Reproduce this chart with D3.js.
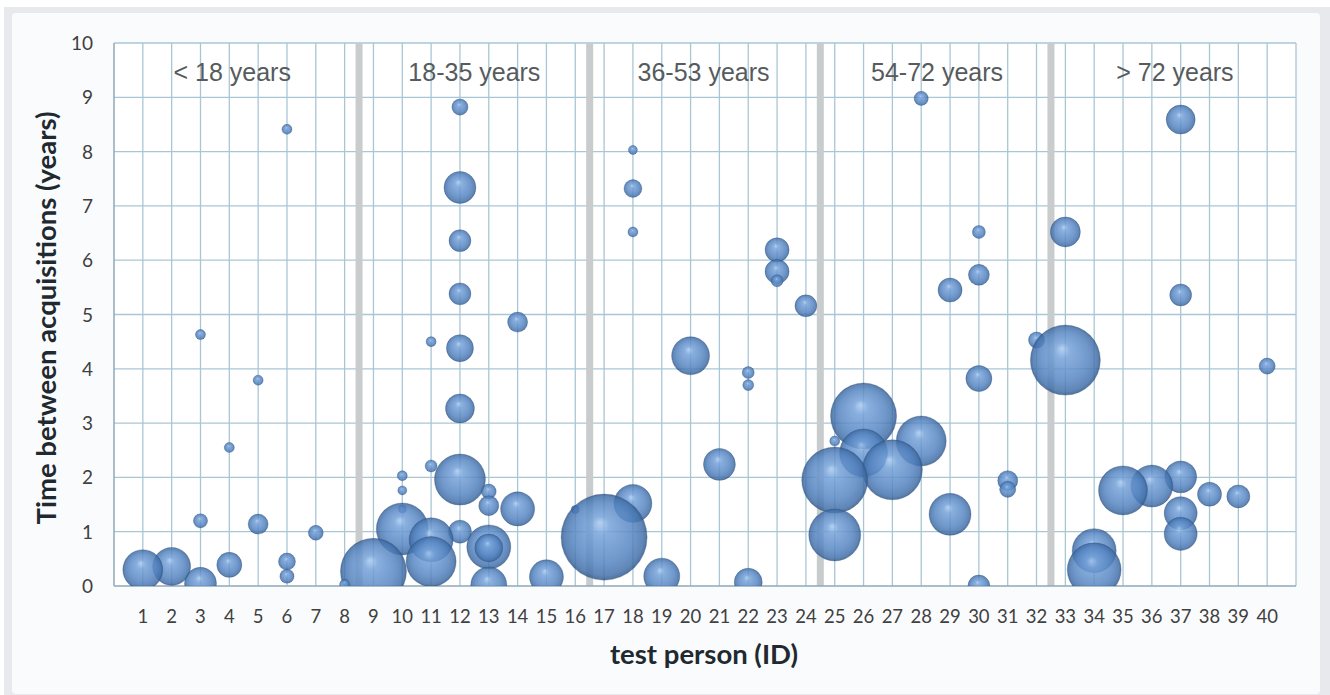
<!DOCTYPE html>
<html>
<head>
<meta charset="utf-8">
<script src="https://cdn.jsdelivr.net/npm/d3@7"></script>
<style>
  html, body { margin: 0; padding: 0; background: #ffffff; }
  svg { display: block; }
</style>
</head>
<body>
<svg id="chart" width="1330" height="695"></svg>
<script>
// ---- data ----
const personIds = d3.range(1, 41);
const yTicks = [0, 1, 2, 3, 4, 5, 6, 7, 8, 9, 10];
const groupLabels = ["< 18 years", "18-35 years", "36-53 years", "54-72 years", "> 72 years"];
const groupLabelPos = [4.1, 12.5, 20.45, 28.55, 36.8];
const groupSeparators = [8.5, 16.5, 24.5, 32.5];
// bubbles: test person id, time between acquisitions (years), bubble size
const bubbleId   = [1, 2, 3, 3, 3, 4, 4, 5, 5, 6, 6, 6, 7, 8,
                    9, 10, 10, 10, 10, 11, 11, 11, 11, 12, 12, 12, 12, 12, 12, 12, 12,
                    13, 13, 13, 13, 13, 14, 14, 15, 16,
                    17, 18, 18, 18, 18, 19, 20, 21, 22, 22, 22, 23, 23, 23, 24,
                    25, 25, 25, 26, 26, 27, 28, 28, 29, 29, 30, 30, 30, 30, 31, 31, 32,
                    33, 33, 34, 34, 35, 36, 37, 37, 37, 37, 37, 38, 39, 40];
const bubbleTime = [0.30, 0.36, 4.63, 1.20, 0.05, 2.55, 0.39, 3.79, 1.14, 8.41, 0.45, 0.18, 0.98, 0.03,
                    0.27, 2.03, 1.76, 1.42, 1.05, 4.50, 2.21, 0.85, 0.45, 8.82, 7.34, 6.36, 5.38, 4.38, 3.27, 1.96, 1.00,
                    1.74, 1.48, 0.72, 0.70, 0.02, 4.86, 1.42, 0.17, 1.41,
                    0.90, 8.03, 7.32, 6.52, 1.52, 0.18, 4.24, 2.24, 3.93, 3.70, 0.07, 6.19, 5.79, 5.62, 5.16,
                    2.67, 1.95, 0.94, 3.13, 2.45, 2.14, 8.98, 2.67, 5.45, 1.32, 6.52, 5.73, 3.82, 0.00, 1.94, 1.78, 4.53,
                    6.52, 4.16, 0.65, 0.30, 1.76, 1.84, 8.59, 5.36, 2.01, 1.34, 0.96, 1.69, 1.65, 4.05];
const bubbleSize = [16, 14.4, 1, 2, 10.2, 1, 6.3, 1, 4, 1, 2.9, 2, 2.2, 1,
                    43.6, 1, 0.8, 0.64, 27, 1, 1.44, 19.4, 25, 2.6, 10.2, 4.8, 4.8, 7.3, 8.4, 26, 5.3,
                    2.2, 4, 19.4, 7.8, 13, 4, 11.6, 11.6, 0.64,
                    74, 0.8, 3.2, 1, 14.4, 13, 14.4, 10.2, 1.44, 1.2, 7.8, 5.8, 5.8, 1.44, 4.8,
                    1, 43.6, 27, 43.6, 23, 36, 2, 25, 5.8, 17.6, 1.7, 4.4, 6.8, 4.8, 4, 2.6, 2.6,
                    9, 49, 19.4, 29, 24, 17.6, 8.4, 4.8, 10.2, 10.9, 10.9, 5.8, 5.3, 2.6];

// ---- layout ----
const svg = d3.select("#chart");
const W = 1330, H = 695;
const plot = { left: 114, right: 1296, top: 43, bottom: 586 };

// frame
svg.append("rect").attr("x", 4).attr("y", 7).attr("width", W - 4).attr("height", H - 7).attr("fill", "#e8e9ec");
svg.append("rect").attr("x", 12).attr("y", 13).attr("width", 1308).attr("height", 681).attr("rx", 4).attr("fill", "#fafbfd");

const x = d3.scaleLinear().domain([0, 41]).range([plot.left, plot.right]);
const y = d3.scaleLinear().domain([0, 10]).range([plot.bottom, plot.top]);
const r = d3.scaleSqrt().domain([0, 100]).range([0, 50]);

// plot background
svg.append("rect").attr("x", plot.left).attr("y", plot.top)
  .attr("width", plot.right - plot.left).attr("height", plot.bottom - plot.top).attr("fill", "#ffffff");

// grid
const grid = svg.append("g");
grid.selectAll("line.v").data(d3.range(1, 42)).join("line")
  .attr("x1", d => x(d)).attr("x2", d => x(d)).attr("y1", plot.top).attr("y2", plot.bottom)
  .attr("stroke", "#a9c6d6").attr("stroke-width", 1.3);
grid.selectAll("line.h").data(yTicks.slice(1)).join("line")
  .attr("x1", plot.left).attr("x2", plot.right).attr("y1", d => y(d)).attr("y2", d => y(d))
  .attr("stroke", "#a9c6d6").attr("stroke-width", 1.3);

// group separators
svg.append("g").selectAll("rect").data(groupSeparators).join("rect")
  .attr("x", d => x(d) - 3.5).attr("width", 7).attr("y", plot.top).attr("height", plot.bottom - plot.top)
  .attr("fill", "#c9cccc");

// axes lines
svg.append("line").attr("x1", plot.left).attr("x2", plot.left).attr("y1", plot.top).attr("y2", plot.bottom)
  .attr("stroke", "#8fa9b6").attr("stroke-width", 1.5);
svg.append("line").attr("x1", plot.left).attr("x2", plot.right).attr("y1", plot.bottom).attr("y2", plot.bottom)
  .attr("stroke", "#8fa9b6").attr("stroke-width", 1.5);

// gradient
const defs = svg.append("defs");
const grad = defs.append("radialGradient").attr("id", "ball")
  .attr("cx", "50%").attr("cy", "50%").attr("r", "50%").attr("fx", "45%").attr("fy", "33%");
grad.append("stop").attr("offset", "0%").attr("stop-color", "#a8c8ef");
grad.append("stop").attr("offset", "22%").attr("stop-color", "#72a0d8");
grad.append("stop").attr("offset", "70%").attr("stop-color", "#5584c0");
grad.append("stop").attr("offset", "92%").attr("stop-color", "#416fa9");
grad.append("stop").attr("offset", "100%").attr("stop-color", "#2f5586");
defs.append("clipPath").attr("id", "plotclip").append("rect")
  .attr("x", plot.left).attr("y", plot.top).attr("width", plot.right - plot.left).attr("height", plot.bottom - plot.top);

// group labels
svg.append("g").selectAll("text").data(groupLabels).join("text")
  .attr("x", (d, i) => x(groupLabelPos[i])).attr("y", y(9.3))
  .attr("text-anchor", "middle").attr("font-family", "Liberation Sans, Arial, sans-serif")
  .attr("font-size", 25).attr("fill", "#565b5d").text(d => d);

// bubbles (higher ones drawn first, lower ones on top)
const bubbles = bubbleId.map((id, i) => ({ id, t: bubbleTime[i], s: bubbleSize[i] }))
  .sort((a, b) => b.t - a.t);
svg.append("g").attr("clip-path", "url(#plotclip)").selectAll("circle").data(bubbles).join("circle")
  .attr("cx", d => x(d.id)).attr("cy", d => y(d.t)).attr("r", d => r(d.s))
  .attr("fill", "url(#ball)").attr("fill-opacity", 0.84)
  .attr("stroke", "#3a5f8f").attr("stroke-opacity", 0.4).attr("stroke-width", 0.8);

// tick labels
svg.append("g").selectAll("text").data(yTicks).join("text")
  .attr("x", 93).attr("y", d => y(d) + 7).attr("text-anchor", "end")
  .attr("font-family", "Lato, sans-serif").attr("font-size", 19).attr("fill", "#404040").text(d => d);
svg.append("g").selectAll("text").data(personIds).join("text")
  .attr("x", d => x(d)).attr("y", 623).attr("text-anchor", "middle")
  .attr("font-family", "Lato, sans-serif").attr("font-size", 18.5).attr("fill", "#404040").text(d => d);

// axis titles
svg.append("text").attr("x", 704).attr("y", 664).attr("text-anchor", "middle")
  .attr("font-family", "Lato, sans-serif").attr("font-weight", "bold").attr("font-size", 27.5)
  .attr("fill", "#1f2a30").text("test person (ID)");
svg.append("text").attr("transform", "translate(56,318) rotate(-90)").attr("text-anchor", "middle")
  .attr("font-family", "Lato, sans-serif").attr("font-weight", "bold").attr("font-size", 27.5)
  .attr("fill", "#1f2a30").text("Time between acquisitions (years)");
</script>
</body>
</html>
